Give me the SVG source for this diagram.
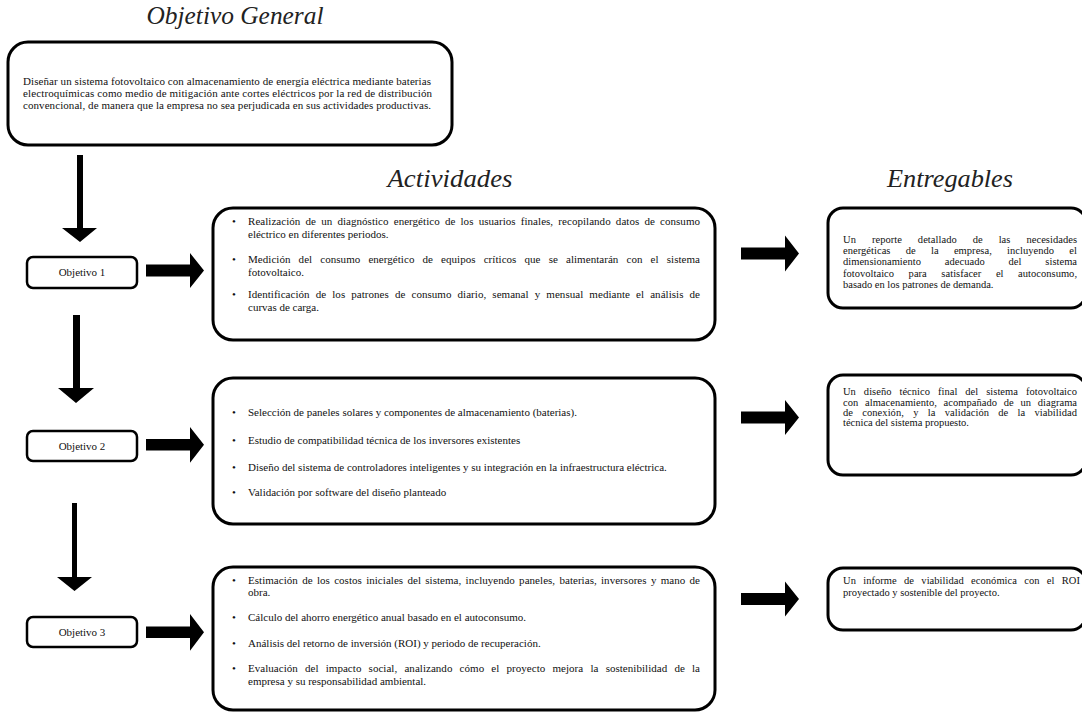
<svg xmlns="http://www.w3.org/2000/svg" width="1082" height="713" viewBox="0 0 1082 713">
<defs>
<style>
.title{font-family:"Liberation Serif","Times New Roman",serif;font-style:italic;font-size:26px;fill:#222;text-anchor:middle}
.box{fill:#fff;stroke:#000;stroke-width:3}
.obox{fill:#fff;stroke:#000;stroke-width:2.5}
.t{font-family:"Liberation Serif","Times New Roman",serif;font-size:11px;fill:#111}
.e{font-family:"Liberation Serif","Times New Roman",serif;font-size:10.5px;fill:#111}
.c{text-anchor:middle}
.arrow{fill:#000}
</style>
</defs>
<rect width="1082" height="713" fill="#fff"/>

<text class="title" x="235" y="24" textLength="177" lengthAdjust="spacingAndGlyphs">Objetivo General</text>
<text class="title" x="450" y="187" textLength="125" lengthAdjust="spacingAndGlyphs">Actividades</text>
<text class="title" x="950" y="187" textLength="126" lengthAdjust="spacingAndGlyphs">Entregables</text>

<g id="connectors">
<polygon class="arrow" points="77,155 83,155 83,228 97,228 80,242 62,228 77,228"/>
<polygon class="arrow" points="73,315 80,315 80,388 94,388 76,403 58,388 73,388"/>
<polygon class="arrow" points="72,503 77,503 77,577 92,577 74.5,591 57,577 72,577"/>
<polygon class="arrow" points="146,264.5 190,264.5 190,253 204,270.5 190,288 190,276.5 146,276.5"/>
<polygon class="arrow" points="146,439 190,439 190,427 204,444.7 190,462.7 190,450.5 146,450.5"/>
<polygon class="arrow" points="146,626.5 190,626.5 190,614 204,632.3 190,650.7 190,638 146,638"/>
<polygon class="arrow" points="741,247.5 785,247.5 785,235.5 799,253.5 785,271.5 785,259.5 741,259.5"/>
<polygon class="arrow" points="741,411.5 785,411.5 785,400 799,417.5 785,435 785,423.5 741,423.5"/>
<polygon class="arrow" points="741,593 785,593 785,581.5 799,599 785,616.5 785,605 741,605"/>
</g>

<g id="objetivo-general">
<rect class="box" x="8" y="42" width="444" height="103" rx="20"/>
<text class="t" x="23" y="85" textLength="408" lengthAdjust="spacing">Diseñar un sistema fotovoltaico con almacenamiento de energía eléctrica mediante baterias</text>
<text class="t" x="23" y="97" textLength="409" lengthAdjust="spacing">electroquímicas como medio de mitigación ante cortes eléctricos por la red de distribución</text>
<text class="t" x="23" y="109" textLength="408" lengthAdjust="spacing">convencional, de manera que la empresa no sea perjudicada en sus actividades productivas.</text>
</g>

<g id="objetivo-1">
<rect class="obox" x="27" y="257" width="110" height="31" rx="6"/>
<text class="t c" x="82" y="276">Objetivo 1</text>
</g>
<g id="objetivo-2">
<rect class="obox" x="27" y="431" width="110" height="30" rx="6"/>
<text class="t c" x="82" y="450">Objetivo 2</text>
</g>
<g id="objetivo-3">
<rect class="obox" x="27" y="617" width="110" height="30" rx="6"/>
<text class="t c" x="82" y="636">Objetivo 3</text>
</g>

<g id="actividades-1">
<rect class="box" x="213" y="208" width="502" height="132" rx="20"/>
<text class="t" x="232" y="225">•</text>
<text class="t" x="248" y="225" word-spacing="2.4" textLength="452" lengthAdjust="spacing">Realización de un diagnóstico energético de los usuarios finales, recopilando datos de consumo</text>
<text class="t" x="248" y="238">eléctrico en diferentes periodos.</text>
<text class="t" x="232" y="263">•</text>
<text class="t" x="248" y="263" word-spacing="5.3" textLength="452" lengthAdjust="spacing">Medición del consumo energético de equipos críticos que se alimentarán con el sistema</text>
<text class="t" x="248" y="276">fotovoltaico.</text>
<text class="t" x="232" y="298">•</text>
<text class="t" x="248" y="298" word-spacing="3.3" textLength="452" lengthAdjust="spacing">Identificación de los patrones de consumo diario, semanal y mensual mediante el análisis de</text>
<text class="t" x="248" y="311">curvas de carga.</text>
</g>

<g id="actividades-2">
<rect class="box" x="213" y="378" width="502" height="146" rx="20"/>
<text class="t" x="232" y="416">•</text>
<text class="t" x="248" y="416">Selección de paneles solares y componentes de almacenamiento (baterias).</text>
<text class="t" x="232" y="444">•</text>
<text class="t" x="248" y="444">Estudio de compatibilidad técnica de los inversores existentes</text>
<text class="t" x="232" y="471">•</text>
<text class="t" x="248" y="471">Diseño del sistema de controladores inteligentes y su integración en la infraestructura eléctrica.</text>
<text class="t" x="232" y="496">•</text>
<text class="t" x="248" y="496">Validación por software del diseño planteado</text>
</g>

<g id="actividades-3">
<rect class="box" x="213" y="567" width="502" height="143" rx="20"/>
<text class="t" x="232" y="584">•</text>
<text class="t" x="248" y="584" word-spacing="1.5" textLength="452" lengthAdjust="spacing">Estimación de los costos iniciales del sistema, incluyendo paneles, baterias, inversores y mano de</text>
<text class="t" x="248" y="596">obra.</text>
<text class="t" x="232" y="621">•</text>
<text class="t" x="248" y="621">Cálculo del ahorro energético anual basado en el autoconsumo.</text>
<text class="t" x="232" y="647">•</text>
<text class="t" x="248" y="647">Análisis del retorno de inversión (ROI) y periodo de recuperación.</text>
<text class="t" x="232" y="672">•</text>
<text class="t" x="248" y="672" word-spacing="4.4" textLength="452" lengthAdjust="spacing">Evaluación del impacto social, analizando cómo el proyecto mejora la sostenibilidad de la</text>
<text class="t" x="248" y="685">empresa y su responsabilidad ambiental.</text>
</g>

<g id="entregable-1">
<rect class="box" x="828" y="208" width="258" height="100" rx="15"/>
<text class="e" x="843" y="243" word-spacing="13.3" textLength="234" lengthAdjust="spacing">Un reporte detallado de las necesidades</text>
<text class="e" x="843" y="254" word-spacing="12.6" textLength="234" lengthAdjust="spacing">energéticas de la empresa, incluyendo el</text>
<text class="e" x="843" y="265" word-spacing="21.2" textLength="234" lengthAdjust="spacing">dimensionamiento adecuado del sistema</text>
<text class="e" x="843" y="277" word-spacing="11.9" textLength="234" lengthAdjust="spacing">fotovoltaico para satisfacer el autoconsumo,</text>
<text class="e" x="843" y="288">basado en los patrones de demanda.</text>
</g>

<g id="entregable-2">
<rect class="box" x="828" y="375" width="258" height="100" rx="15"/>
<text class="e" x="843" y="395" word-spacing="5.3" textLength="234" lengthAdjust="spacing">Un diseño técnico final del sistema fotovoltaico</text>
<text class="e" x="843" y="406" word-spacing="4.1" textLength="234" lengthAdjust="spacing">con almacenamiento, acompañado de un diagrama</text>
<text class="e" x="843" y="416" word-spacing="6.6" textLength="234" lengthAdjust="spacing">de conexión, y la validación de la viabilidad</text>
<text class="e" x="843" y="426">técnica del sistema propuesto.</text>
</g>

<g id="entregable-3">
<rect class="box" x="828" y="568" width="258" height="62" rx="15"/>
<text class="e" x="843" y="584" word-spacing="4.6" textLength="237" lengthAdjust="spacing">Un informe de viabilidad económica con el ROI</text>
<text class="e" x="843" y="596">proyectado y sostenible del proyecto.</text>
</g>
</svg>
